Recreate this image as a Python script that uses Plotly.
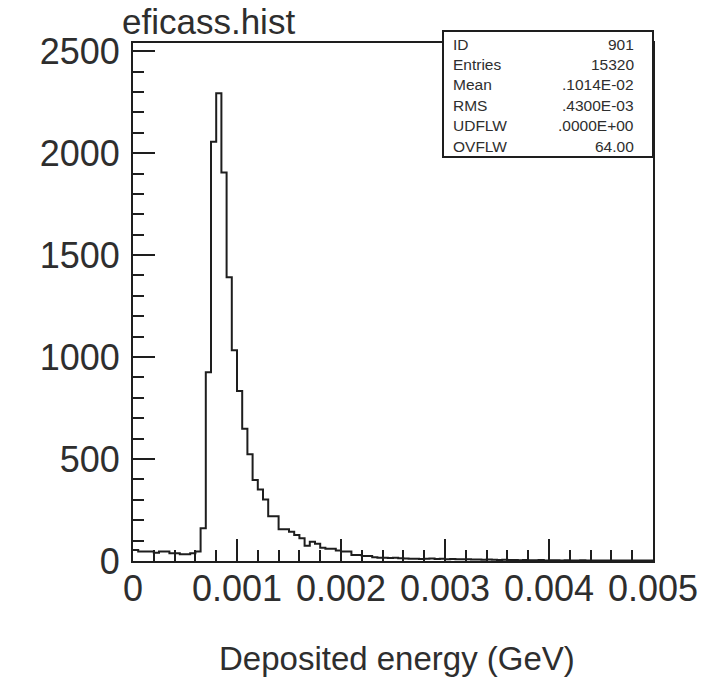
import plotly.graph_objects as go

# ---- data ----
bin_lo = 0.0
bin_hi = 0.005
counts = [
    54, 46, 46, 46, 41, 46, 46, 38, 38, 33,
    33, 38, 46, 160, 925, 2056, 2293, 1905, 1391, 1034,
    833, 649, 524, 397, 351, 302, 219, 219, 156, 156,
    144, 128, 111, 75, 94, 85, 65, 60, 60, 52,
    46, 46, 30, 30, 25, 25, 18, 16, 16, 15,
    16, 14, 12, 11, 11, 10, 11, 12, 10, 11,
    9, 10, 8, 9, 8, 7, 7, 6, 7, 6,
    5, 6, 5, 5, 4, 5, 4, 4, 5, 3,
    4, 4, 3, 4, 3, 3, 4, 3, 2, 3,
    3, 2, 3, 2, 2, 3, 2, 2, 2, 2,
]
x_tick_vals = [0, 0.001, 0.002, 0.003, 0.004, 0.005]
x_tick_text = ["0", "0.001", "0.002", "0.003", "0.004", "0.005"]
y_tick_vals = [0, 500, 1000, 1500, 2000, 2500]
y_tick_text = ["0", "500", "1000", "1500", "2000", "2500"]
stat_labels = ["ID", "Entries", "Mean", "RMS", "UDFLW", "OVFLW"]
stat_values = ["901", "15320", ".1014E-02", ".4300E-03", ".0000E+00", "64.00"]
title_text = "eficass.hist"
x_title = "Deposited energy (GeV)"

nb = len(counts)
w = (bin_hi - bin_lo) / nb
edges = [bin_lo + i * w for i in range(nb + 1)]
ys = counts + [counts[-1]]

W, H = 718, 680
L, R, T, B = 133, 653, 43, 561
ink = "#1e1e1e"
txt = "#2e2e2e"
font = "Liberation Sans, Arial, sans-serif"

fig = go.Figure()
fig.add_trace(go.Scatter(x=edges, y=ys, mode="lines", line=dict(shape="hv", color=ink, width=2),
                         hoverinfo="skip", showlegend=False))

fig.update_layout(
    width=W, height=H,
    margin=dict(l=L, r=W - R, t=T, b=H - B, pad=0),
    paper_bgcolor="white", plot_bgcolor="white",
    showlegend=False,
)
fig.update_xaxes(
    range=[bin_lo, bin_hi], tickvals=x_tick_vals, ticktext=x_tick_text,
    ticks="inside", ticklen=22, tickwidth=2, tickcolor=ink,
    minor=dict(dtick=0.0002, ticks="inside", ticklen=11, tickwidth=2, tickcolor=ink, showgrid=False),
    showline=True, linecolor=ink, linewidth=2, mirror=True,
    showgrid=False, zeroline=False,
    tickfont=dict(family=font, size=36, color=txt),
    ticklabelstandoff=-5,
)
fig.update_yaxes(
    range=[0, 2540], tickvals=y_tick_vals, ticktext=y_tick_text,
    ticks="inside", ticklen=22, tickwidth=2, tickcolor=ink,
    minor=dict(dtick=100, ticks="inside", ticklen=11, tickwidth=2, tickcolor=ink, showgrid=False),
    showline=True, linecolor=ink, linewidth=2, mirror=True,
    showgrid=False, zeroline=False,
    tickfont=dict(family=font, size=36, color=txt),
    ticklabelstandoff=4,
)

pw = R - L
ph = B - T
def px(xp):
    return (xp - L) / pw
def py(yp):
    return (B - yp) / ph

# stats box
box_l, box_t, box_b = 443, 31, 157
fig.add_shape(type="rect", xref="paper", yref="paper", x0=px(box_l), x1=1.0, y0=py(box_b), y1=py(box_t),
              line=dict(color=ink, width=2), fillcolor="white", layer="above")
row0, rowstep = 44, 20.4
for i, (lab, val) in enumerate(zip(stat_labels, stat_values)):
    yy = py(row0 + i * rowstep)
    fig.add_annotation(xref="paper", yref="paper", x=px(451), y=yy, text=lab, showarrow=False,
                       xanchor="left", yanchor="middle", font=dict(family=font, size=15.5, color=txt))
    fig.add_annotation(xref="paper", yref="paper", x=px(636), y=yy, text=val, showarrow=False,
                       xanchor="right", yanchor="middle", font=dict(family=font, size=15.5, color=txt))

fig.add_annotation(xref="paper", yref="paper", x=px(120), y=py(21), text=title_text, showarrow=False,
                   xanchor="left", yanchor="middle", font=dict(family=font, size=35, color=txt))
fig.add_annotation(xref="paper", yref="paper", x=px(397), y=py(658), text=x_title, showarrow=False,
                   xanchor="center", yanchor="middle", font=dict(family=font, size=33, color=txt))

fig.write_html("out.html", config={"displayModeBar": False},
               post_script="document.body.style.margin='0';")
